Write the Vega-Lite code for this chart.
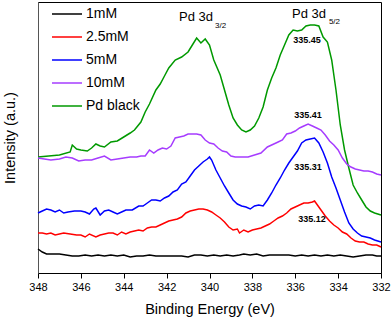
{
"$schema": "https://vega.github.io/schema/vega-lite/v6.json",
"width": 343, "height": 271,
"autosize": "none",
"padding": {"left": 38, "top": 2, "right": 11, "bottom": 46},
"config": {"font": "Liberation Sans", "view": {"stroke": "black", "strokeWidth": 1}},
"datasets": {
"spec": [
{"s":"Pd black","e":348,"i":116},{"s":"Pd black","e":347.5,"i":117},{"s":"Pd black","e":347,"i":118},{"s":"Pd black","e":346.5,"i":121},{"s":"Pd black","e":346.4,"i":128},{"s":"Pd black","e":346.2,"i":124},{"s":"Pd black","e":346,"i":123},{"s":"Pd black","e":345.7,"i":122},{"s":"Pd black","e":345.5,"i":125},{"s":"Pd black","e":345.3,"i":129},{"s":"Pd black","e":345.1,"i":127},{"s":"Pd black","e":344.9,"i":126},{"s":"Pd black","e":344.6,"i":131},{"s":"Pd black","e":344.3,"i":132},{"s":"Pd black","e":344,"i":136},{"s":"Pd black","e":343.7,"i":140},{"s":"Pd black","e":343.5,"i":143},{"s":"Pd black","e":343.2,"i":151},{"s":"Pd black","e":343,"i":161},{"s":"Pd black","e":342.8,"i":169},{"s":"Pd black","e":342.5,"i":183},{"s":"Pd black","e":342.3,"i":189},{"s":"Pd black","e":342.1,"i":197},{"s":"Pd black","e":341.9,"i":205},{"s":"Pd black","e":341.6,"i":213},{"s":"Pd black","e":341.3,"i":216},{"s":"Pd black","e":341,"i":221},{"s":"Pd black","e":340.8,"i":228},{"s":"Pd black","e":340.6,"i":235},{"s":"Pd black","e":340.4,"i":230},{"s":"Pd black","e":340.2,"i":234},{"s":"Pd black","e":340,"i":228},{"s":"Pd black","e":339.8,"i":213},{"s":"Pd black","e":339.5,"i":198},{"s":"Pd black","e":339.3,"i":183},{"s":"Pd black","e":339.1,"i":168},{"s":"Pd black","e":338.9,"i":155},{"s":"Pd black","e":338.7,"i":148},{"s":"Pd black","e":338.5,"i":143},{"s":"Pd black","e":338.3,"i":141},{"s":"Pd black","e":338.1,"i":143},{"s":"Pd black","e":337.9,"i":147},{"s":"Pd black","e":337.7,"i":155},{"s":"Pd black","e":337.5,"i":166},{"s":"Pd black","e":337.3,"i":183},{"s":"Pd black","e":337.1,"i":195},{"s":"Pd black","e":336.9,"i":205},{"s":"Pd black","e":336.7,"i":218},{"s":"Pd black","e":336.5,"i":228},{"s":"Pd black","e":336.3,"i":238},{"s":"Pd black","e":336.1,"i":243},{"s":"Pd black","e":335.9,"i":242},{"s":"Pd black","e":335.7,"i":243},{"s":"Pd black","e":335.5,"i":247},{"s":"Pd black","e":335.3,"i":248},{"s":"Pd black","e":335.1,"i":248},{"s":"Pd black","e":334.9,"i":247},{"s":"Pd black","e":334.7,"i":236},{"s":"Pd black","e":334.5,"i":231},{"s":"Pd black","e":334.3,"i":213},{"s":"Pd black","e":334.1,"i":183},{"s":"Pd black","e":333.9,"i":148},{"s":"Pd black","e":333.7,"i":123},{"s":"Pd black","e":333.5,"i":105},{"s":"Pd black","e":333.3,"i":88},{"s":"Pd black","e":333.1,"i":80},{"s":"Pd black","e":332.9,"i":73},{"s":"Pd black","e":332.7,"i":66},{"s":"Pd black","e":332.5,"i":62},{"s":"Pd black","e":332.3,"i":60},{"s":"Pd black","e":332,"i":58},
{"s":"10mM","e":348,"i":115},{"s":"10mM","e":347.7,"i":114},{"s":"10mM","e":347.4,"i":113},{"s":"10mM","e":347,"i":114},{"s":"10mM","e":346.7,"i":116},{"s":"10mM","e":346.4,"i":115},{"s":"10mM","e":346.1,"i":112},{"s":"10mM","e":345.8,"i":113},{"s":"10mM","e":345.5,"i":113},{"s":"10mM","e":345.2,"i":115},{"s":"10mM","e":344.9,"i":117},{"s":"10mM","e":344.6,"i":113},{"s":"10mM","e":344.3,"i":114},{"s":"10mM","e":344,"i":115},{"s":"10mM","e":343.7,"i":116},{"s":"10mM","e":343.4,"i":116},{"s":"10mM","e":343.2,"i":117},{"s":"10mM","e":343,"i":117},{"s":"10mM","e":342.8,"i":123},{"s":"10mM","e":342.6,"i":120},{"s":"10mM","e":342.4,"i":123},{"s":"10mM","e":342.2,"i":125},{"s":"10mM","e":342,"i":124},{"s":"10mM","e":341.8,"i":127},{"s":"10mM","e":341.6,"i":135},{"s":"10mM","e":341.4,"i":136},{"s":"10mM","e":341.2,"i":137},{"s":"10mM","e":341,"i":139},{"s":"10mM","e":340.8,"i":139},{"s":"10mM","e":340.6,"i":139},{"s":"10mM","e":340.4,"i":138},{"s":"10mM","e":340.2,"i":133},{"s":"10mM","e":340,"i":130},{"s":"10mM","e":339.8,"i":129},{"s":"10mM","e":339.6,"i":125},{"s":"10mM","e":339.4,"i":122},{"s":"10mM","e":339.2,"i":121},{"s":"10mM","e":339,"i":117},{"s":"10mM","e":338.8,"i":116},{"s":"10mM","e":338.5,"i":116},{"s":"10mM","e":338.2,"i":116},{"s":"10mM","e":337.9,"i":118},{"s":"10mM","e":337.6,"i":120},{"s":"10mM","e":337.3,"i":126},{"s":"10mM","e":337,"i":129},{"s":"10mM","e":336.8,"i":131},{"s":"10mM","e":336.6,"i":133},{"s":"10mM","e":336.4,"i":139},{"s":"10mM","e":336.2,"i":140},{"s":"10mM","e":336,"i":142},{"s":"10mM","e":335.8,"i":145},{"s":"10mM","e":335.6,"i":147},{"s":"10mM","e":335.4,"i":149},{"s":"10mM","e":335.2,"i":147},{"s":"10mM","e":335,"i":145},{"s":"10mM","e":334.8,"i":143},{"s":"10mM","e":334.6,"i":138},{"s":"10mM","e":334.4,"i":132},{"s":"10mM","e":334.2,"i":128},{"s":"10mM","e":334,"i":123},{"s":"10mM","e":333.8,"i":115},{"s":"10mM","e":333.6,"i":109},{"s":"10mM","e":333.4,"i":106},{"s":"10mM","e":333.2,"i":104},{"s":"10mM","e":333,"i":103},{"s":"10mM","e":332.8,"i":102},{"s":"10mM","e":332.6,"i":102},{"s":"10mM","e":332.4,"i":101},{"s":"10mM","e":332.2,"i":99},{"s":"10mM","e":332,"i":98},
{"s":"5mM","e":348,"i":60},{"s":"5mM","e":347.8,"i":62},{"s":"5mM","e":347.6,"i":64},{"s":"5mM","e":347.4,"i":63},{"s":"5mM","e":347.2,"i":61},{"s":"5mM","e":347,"i":63},{"s":"5mM","e":346.8,"i":60},{"s":"5mM","e":346.6,"i":61},{"s":"5mM","e":346.3,"i":62},{"s":"5mM","e":346,"i":62},{"s":"5mM","e":345.8,"i":61},{"s":"5mM","e":345.6,"i":59},{"s":"5mM","e":345.4,"i":64},{"s":"5mM","e":345.3,"i":65},{"s":"5mM","e":345.1,"i":58},{"s":"5mM","e":344.9,"i":62},{"s":"5mM","e":344.7,"i":63},{"s":"5mM","e":344.5,"i":61},{"s":"5mM","e":344.3,"i":59},{"s":"5mM","e":344.1,"i":61},{"s":"5mM","e":343.9,"i":63},{"s":"5mM","e":343.6,"i":63},{"s":"5mM","e":343.3,"i":67},{"s":"5mM","e":343.1,"i":67},{"s":"5mM","e":342.9,"i":70},{"s":"5mM","e":342.7,"i":73},{"s":"5mM","e":342.5,"i":73},{"s":"5mM","e":342.3,"i":72},{"s":"5mM","e":342.1,"i":75},{"s":"5mM","e":341.9,"i":77},{"s":"5mM","e":341.7,"i":81},{"s":"5mM","e":341.5,"i":83},{"s":"5mM","e":341.3,"i":89},{"s":"5mM","e":341.1,"i":91},{"s":"5mM","e":340.9,"i":97},{"s":"5mM","e":340.7,"i":103},{"s":"5mM","e":340.5,"i":107},{"s":"5mM","e":340.3,"i":111},{"s":"5mM","e":340.1,"i":114},{"s":"5mM","e":340,"i":116},{"s":"5mM","e":339.9,"i":113},{"s":"5mM","e":339.7,"i":103},{"s":"5mM","e":339.5,"i":95},{"s":"5mM","e":339.3,"i":87},{"s":"5mM","e":339.1,"i":80},{"s":"5mM","e":338.9,"i":73},{"s":"5mM","e":338.7,"i":69},{"s":"5mM","e":338.5,"i":67},{"s":"5mM","e":338.3,"i":66},{"s":"5mM","e":338.1,"i":64},{"s":"5mM","e":337.9,"i":67},{"s":"5mM","e":337.7,"i":68},{"s":"5mM","e":337.5,"i":67},{"s":"5mM","e":337.3,"i":73},{"s":"5mM","e":337.1,"i":80},{"s":"5mM","e":336.9,"i":88},{"s":"5mM","e":336.7,"i":95},{"s":"5mM","e":336.5,"i":103},{"s":"5mM","e":336.3,"i":110},{"s":"5mM","e":336.1,"i":116},{"s":"5mM","e":335.9,"i":122},{"s":"5mM","e":335.7,"i":130},{"s":"5mM","e":335.5,"i":133},{"s":"5mM","e":335.3,"i":134},{"s":"5mM","e":335.1,"i":135},{"s":"5mM","e":334.9,"i":130},{"s":"5mM","e":334.7,"i":121},{"s":"5mM","e":334.5,"i":110},{"s":"5mM","e":334.3,"i":96},{"s":"5mM","e":334.1,"i":85},{"s":"5mM","e":333.9,"i":73},{"s":"5mM","e":333.7,"i":61},{"s":"5mM","e":333.5,"i":50},{"s":"5mM","e":333.3,"i":44},{"s":"5mM","e":333.1,"i":40},{"s":"5mM","e":332.9,"i":37},{"s":"5mM","e":332.7,"i":36},{"s":"5mM","e":332.5,"i":35},{"s":"5mM","e":332.3,"i":33},{"s":"5mM","e":332,"i":31},
{"s":"2.5mM","e":348,"i":40},{"s":"2.5mM","e":347.8,"i":40},{"s":"2.5mM","e":347.6,"i":39},{"s":"2.5mM","e":347.4,"i":40},{"s":"2.5mM","e":347.2,"i":38},{"s":"2.5mM","e":347,"i":39},{"s":"2.5mM","e":346.8,"i":40},{"s":"2.5mM","e":346.5,"i":39},{"s":"2.5mM","e":346.2,"i":38},{"s":"2.5mM","e":346,"i":38},{"s":"2.5mM","e":345.8,"i":36},{"s":"2.5mM","e":345.6,"i":39},{"s":"2.5mM","e":345.3,"i":36},{"s":"2.5mM","e":345.1,"i":38},{"s":"2.5mM","e":344.9,"i":39},{"s":"2.5mM","e":344.7,"i":40},{"s":"2.5mM","e":344.5,"i":40},{"s":"2.5mM","e":344.3,"i":38},{"s":"2.5mM","e":344.1,"i":41},{"s":"2.5mM","e":343.9,"i":39},{"s":"2.5mM","e":343.7,"i":41},{"s":"2.5mM","e":343.5,"i":42},{"s":"2.5mM","e":343.3,"i":43},{"s":"2.5mM","e":343.1,"i":42},{"s":"2.5mM","e":342.9,"i":45},{"s":"2.5mM","e":342.7,"i":46},{"s":"2.5mM","e":342.5,"i":46},{"s":"2.5mM","e":342.3,"i":48},{"s":"2.5mM","e":342.1,"i":50},{"s":"2.5mM","e":341.9,"i":52},{"s":"2.5mM","e":341.7,"i":53},{"s":"2.5mM","e":341.5,"i":54},{"s":"2.5mM","e":341.3,"i":56},{"s":"2.5mM","e":341.1,"i":60},{"s":"2.5mM","e":340.9,"i":62},{"s":"2.5mM","e":340.7,"i":63},{"s":"2.5mM","e":340.5,"i":64},{"s":"2.5mM","e":340.3,"i":64},{"s":"2.5mM","e":340.1,"i":63},{"s":"2.5mM","e":339.9,"i":61},{"s":"2.5mM","e":339.7,"i":58},{"s":"2.5mM","e":339.5,"i":55},{"s":"2.5mM","e":339.3,"i":51},{"s":"2.5mM","e":339.1,"i":46},{"s":"2.5mM","e":338.9,"i":43},{"s":"2.5mM","e":338.7,"i":44},{"s":"2.5mM","e":338.6,"i":40},{"s":"2.5mM","e":338.4,"i":43},{"s":"2.5mM","e":338.2,"i":41},{"s":"2.5mM","e":338,"i":43},{"s":"2.5mM","e":337.8,"i":44},{"s":"2.5mM","e":337.6,"i":45},{"s":"2.5mM","e":337.4,"i":47},{"s":"2.5mM","e":337.2,"i":49},{"s":"2.5mM","e":337,"i":52},{"s":"2.5mM","e":336.8,"i":55},{"s":"2.5mM","e":336.6,"i":57},{"s":"2.5mM","e":336.4,"i":60},{"s":"2.5mM","e":336.2,"i":64},{"s":"2.5mM","e":336,"i":66},{"s":"2.5mM","e":335.8,"i":68},{"s":"2.5mM","e":335.6,"i":70},{"s":"2.5mM","e":335.4,"i":70},{"s":"2.5mM","e":335.2,"i":71},{"s":"2.5mM","e":335.1,"i":72},{"s":"2.5mM","e":335,"i":69},{"s":"2.5mM","e":334.8,"i":63},{"s":"2.5mM","e":334.6,"i":57},{"s":"2.5mM","e":334.4,"i":52},{"s":"2.5mM","e":334.2,"i":48},{"s":"2.5mM","e":334,"i":45},{"s":"2.5mM","e":333.8,"i":41},{"s":"2.5mM","e":333.6,"i":39},{"s":"2.5mM","e":333.4,"i":35},{"s":"2.5mM","e":333.2,"i":32},{"s":"2.5mM","e":333,"i":31},{"s":"2.5mM","e":332.8,"i":31},{"s":"2.5mM","e":332.6,"i":29},{"s":"2.5mM","e":332.4,"i":28},{"s":"2.5mM","e":332.2,"i":28},{"s":"2.5mM","e":332,"i":26},
{"s":"1mM","e":348,"i":24},{"s":"1mM","e":347.8,"i":21},{"s":"1mM","e":347.6,"i":19},{"s":"1mM","e":347.3,"i":19},{"s":"1mM","e":347,"i":19},{"s":"1mM","e":346.7,"i":18},{"s":"1mM","e":346.4,"i":17},{"s":"1mM","e":346.1,"i":17},{"s":"1mM","e":345.8,"i":18},{"s":"1mM","e":345.5,"i":17},{"s":"1mM","e":345.2,"i":18},{"s":"1mM","e":344.9,"i":17},{"s":"1mM","e":344.6,"i":18},{"s":"1mM","e":344.3,"i":17},{"s":"1mM","e":344,"i":18},{"s":"1mM","e":343.7,"i":16},{"s":"1mM","e":343.4,"i":17},{"s":"1mM","e":343.1,"i":17},{"s":"1mM","e":342.8,"i":18},{"s":"1mM","e":342.5,"i":17},{"s":"1mM","e":342.2,"i":17},{"s":"1mM","e":341.9,"i":17},{"s":"1mM","e":341.6,"i":17},{"s":"1mM","e":341.3,"i":17},{"s":"1mM","e":341,"i":16},{"s":"1mM","e":340.7,"i":18},{"s":"1mM","e":340.4,"i":18},{"s":"1mM","e":340.1,"i":17},{"s":"1mM","e":339.8,"i":18},{"s":"1mM","e":339.5,"i":17},{"s":"1mM","e":339.2,"i":18},{"s":"1mM","e":338.9,"i":17},{"s":"1mM","e":338.6,"i":18},{"s":"1mM","e":338.4,"i":19},{"s":"1mM","e":338.1,"i":18},{"s":"1mM","e":337.8,"i":19},{"s":"1mM","e":337.5,"i":17},{"s":"1mM","e":337.2,"i":18},{"s":"1mM","e":336.9,"i":18},{"s":"1mM","e":336.6,"i":18},{"s":"1mM","e":336.3,"i":18},{"s":"1mM","e":336,"i":17},{"s":"1mM","e":335.7,"i":18},{"s":"1mM","e":335.4,"i":17},{"s":"1mM","e":335.1,"i":18},{"s":"1mM","e":334.8,"i":17},{"s":"1mM","e":334.5,"i":18},{"s":"1mM","e":334.2,"i":17},{"s":"1mM","e":333.9,"i":18},{"s":"1mM","e":333.6,"i":17},{"s":"1mM","e":333.3,"i":16},{"s":"1mM","e":333,"i":17},{"s":"1mM","e":332.7,"i":18},{"s":"1mM","e":332.4,"i":18},{"s":"1mM","e":332.2,"i":17},{"s":"1mM","e":332,"i":17}
],
"peaks": [
{"t":"335.45","e":335.45,"i":233},{"t":"335.41","e":335.41,"i":158},{"t":"335.31","e":335.41,"i":106},{"t":"335.12","e":335.22,"i":54}
],
"main": [
{"t":"Pd 3d","e":341.42,"i":256},{"t":"Pd 3d","e":336.15,"i":259.5}
],
"sub": [
{"t":"3/2","e":339.74,"i":247},{"t":"5/2","e":334.43,"i":251}
]
},
"layer": [
{
"data": {"name": "spec"},
"mark": {"type": "line", "strokeWidth": 1.5},
"encoding": {
"x": {"field": "e", "type": "quantitative",
  "scale": {"domain": [332, 348], "reverse": true, "nice": false, "zero": false},
  "axis": {"title": "Binding Energy (eV)", "values": [348,347,346,345,344,343,342,341,340,339,338,337,336,335,334,333,332],
    "labelExpr": "datum.value % 2 == 0 ? datum.label : ''", "format": "d", "grid": false,
    "domainColor": "black", "tickColor": "black", "tickSize": {"condition": {"test": "datum.value % 2 == 0", "value": 5}, "value": 3},
    "labelFontSize": 11, "labelColor": "black", "labelPadding": 3, "labelOverlap": false, "labelBound": false, "labelFlush": false,
    "titleFontSize": 14.5, "titleFontWeight": "normal", "titleColor": "black", "titlePadding": 10}},
"y": {"field": "i", "type": "quantitative",
  "scale": {"domain": [0, 271], "nice": false, "zero": false},
  "axis": {"title": "Intensity (a.u.)", "labels": false, "ticks": false, "grid": false, "domainColor": "#555",
    "titleFontSize": 14.5, "titleFontWeight": "normal", "titleColor": "black", "titlePadding": 21}},
"color": {"field": "s", "type": "nominal",
  "scale": {"domain": ["1mM", "2.5mM", "5mM", "10mM", "Pd black"], "range": ["#000000", "#ff0000", "#0000ff", "#a63cff", "#009900"]},
  "legend": {"title": null, "orient": "none", "legendX": 13, "legendY": -4, "symbolType": "stroke", "symbolSize": 900,
    "symbolStrokeWidth": 1.5, "labelFontSize": 14, "labelColor": "black", "rowPadding": -6, "labelOffset": 3, "padding": 0}}
}
},
{
"data": {"name": "peaks"},
"mark": {"type": "text", "fontSize": 9, "fontWeight": "bold", "color": "black"},
"encoding": {"x": {"field": "e", "type": "quantitative"}, "y": {"field": "i", "type": "quantitative"}, "text": {"field": "t"}}
},
{
"data": {"name": "main"},
"mark": {"type": "text", "fontSize": 13, "align": "left", "baseline": "middle", "color": "black"},
"encoding": {"x": {"field": "e", "type": "quantitative"}, "y": {"field": "i", "type": "quantitative"}, "text": {"field": "t"}}
},
{
"data": {"name": "sub"},
"mark": {"type": "text", "fontSize": 8, "align": "left", "baseline": "middle", "color": "black"},
"encoding": {"x": {"field": "e", "type": "quantitative"}, "y": {"field": "i", "type": "quantitative"}, "text": {"field": "t"}}
}
]
}
